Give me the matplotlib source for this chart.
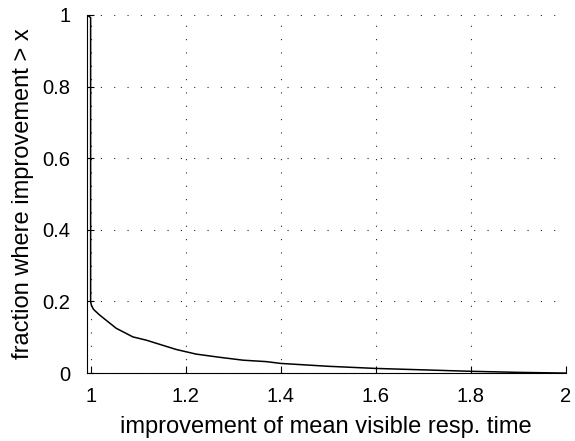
import matplotlib
matplotlib.use('Agg')
import matplotlib.pyplot as plt

# data (complementary CDF of improvement ratio)
improvement = [0.992, 1.0, 1.0, 1.0015, 1.006, 1.019, 1.054, 1.089, 1.117, 1.18, 1.222,
               1.272, 1.321, 1.37, 1.40, 1.5, 1.6, 1.7, 1.8, 1.9, 2.0]
fraction = [1.0, 0.993, 0.2, 0.19, 0.178, 0.162, 0.125, 0.101, 0.092, 0.066, 0.053,
            0.044, 0.036, 0.032, 0.027, 0.019, 0.013, 0.009, 0.005, 0.002, 0.0]

xticks = [1, 1.2, 1.4, 1.6, 1.8, 2]
xticklabels = ['1', '1.2', '1.4', '1.6', '1.8', '2']
yticks = [0, 0.2, 0.4, 0.6, 0.8, 1]
yticklabels = ['0', '0.2', '0.4', '0.6', '0.8', '1']

plt.rcParams['font.family'] = ['Liberation Sans', 'DejaVu Sans']

fig = plt.figure(figsize=(5.75, 4.41), dpi=100)
ax = fig.add_axes([0.151, 0.154, 0.833, 0.812])

ax.plot(improvement, fraction, color='black', linewidth=1.1)

ax.set_xlim(0.992, 2.0)
ax.set_ylim(0, 1)
ax.set_xticks(xticks)
ax.set_xticklabels(xticklabels)
ax.set_yticks(yticks)
ax.set_yticklabels(yticklabels)
ax.tick_params(direction='in', length=5, width=0.8, labelsize=14.5)
ax.tick_params(axis='x', pad=10)
ax.tick_params(axis='y', pad=12)

ax.spines['top'].set_visible(False)
ax.spines['right'].set_visible(False)
ax.spines['left'].set_linewidth(0.8)
ax.spines['bottom'].set_linewidth(0.8)

ax.grid(True, color='0.15', linewidth=0.8, linestyle=(0, (1, 11)))
ax.set_axisbelow(True)

ax.set_xlabel('improvement of mean visible resp. time', fontsize=17, labelpad=7)
ax.set_ylabel('fraction where improvement > x', fontsize=17, labelpad=6)

fig.savefig('out.png', dpi=100)
